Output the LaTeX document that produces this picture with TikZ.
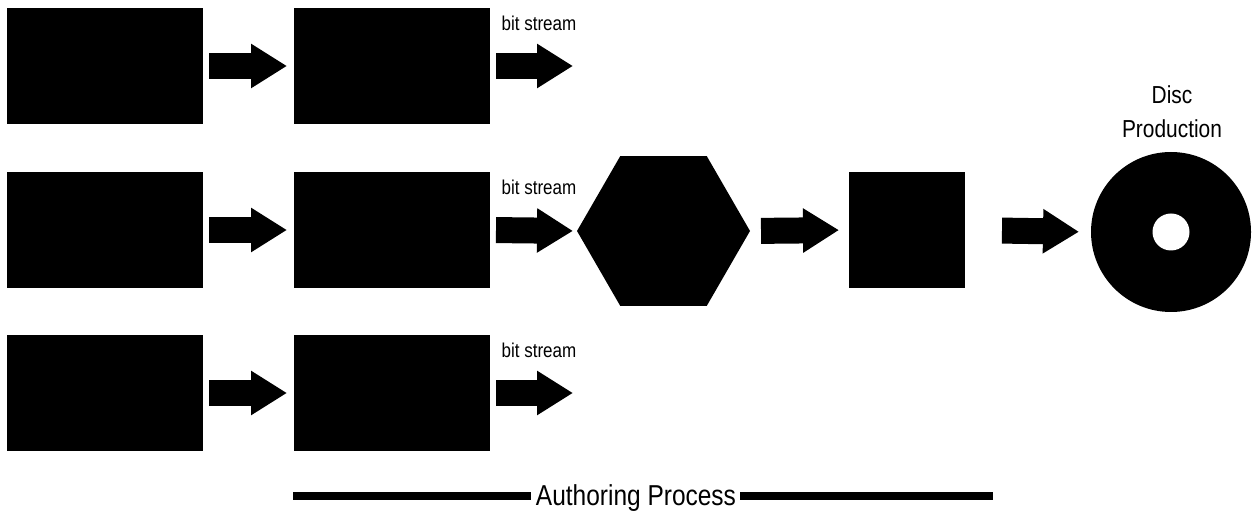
\documentclass[tikz,border=0pt]{standalone}
\usepackage{fontspec}
\setmainfont{Liberation Sans}[FakeStretch=0.85]
\usetikzlibrary{arrows.meta,shapes.geometric}
\tikzset{
  blk/.style={fill=black, inner sep=0pt, outer sep=0pt,
              minimum width=98pt, minimum height=58pt},
  hexa/.style={regular polygon, regular polygon sides=6, fill=black,
              inner sep=0pt, outer sep=0pt, minimum size=86.5pt},
  disc/.style={circle, fill=black, inner sep=0pt, outer sep=0pt, minimum size=80pt},
  hole/.style={circle, fill=white, inner sep=0pt, minimum size=18.5pt},
  lbl/.style={inner sep=0pt, font=\fontsize{10}{12}\selectfont},
  bigflow/.style={line width=13pt, -{Triangle[length=18pt,width=21pt]},
              shorten <=3pt, shorten >=3.5pt},
}
\begin{document}
\begin{tikzpicture}[x=0.5pt,y=-0.5pt]
        \useasboundingbox (0,0) rectangle (1257,512);
        % sources and encoders
        \node[blk] (src1) at (105,66) {};
        \node[blk] (src2) at (105,230) {};
        \node[blk] (src3) at (105,393) {};
        \node[blk] (enc1) at (392,66) {};
        \node[blk] (enc2) at (392,230) {};
        \node[blk] (enc3) at (392,393) {};
        \node[hexa] (mux) at (663.5,231) {};
        \node[blk,minimum width=58pt] (img) at (907,230) {};
        \node[disc] (cd) at (1171,232) {};
        \node[hole] (cdhole) at (cd.center) {};
        \coordinate (out1) at (577,66);
        \coordinate (out3) at (577,393);
        \draw[bigflow] (src1.east) -- (enc1.west);
        \draw[bigflow] (src2.east) -- (enc2.west);
        \draw[bigflow] (src3.east) -- (enc3.west);
        \draw[bigflow,shorten >=2pt] (enc1.east) -- (out1);
        \draw[bigflow,shorten >=2pt] (enc2.east) -- (mux.west);
        \draw[bigflow,shorten >=2pt] (enc3.east) -- (out3);
        \draw[bigflow,shorten <=5.5pt,shorten >=5pt] (mux.east) -- (img.west);
        \draw[bigflow,shorten <=18.5pt,shorten >=6pt] (img.east) -- (cd.west);
        % labels
        \node[lbl,anchor=base] (bs1) at (539,31) {bit stream};
        \node[lbl,anchor=base] (bs2) at (539,195) {bit stream};
        \node[lbl,anchor=base] (bs3) at (539,358) {bit stream};
        \node[lbl,anchor=base,font=\fontsize{12.3}{17}\selectfont] (disclbl) at (1172,104) {Disc};
        \node[lbl,anchor=base,font=\fontsize{12.3}{17}\selectfont] (prodlbl) at (1172,138) {Production};
        \node[lbl,anchor=base,font=\fontsize{14.4}{17}\selectfont] (auth) at (636,506) {Authoring Process};
        \fill (293,492) rectangle (531,500);
        \fill (740,492) rectangle (993,500);
      \end{tikzpicture}
\end{document}
